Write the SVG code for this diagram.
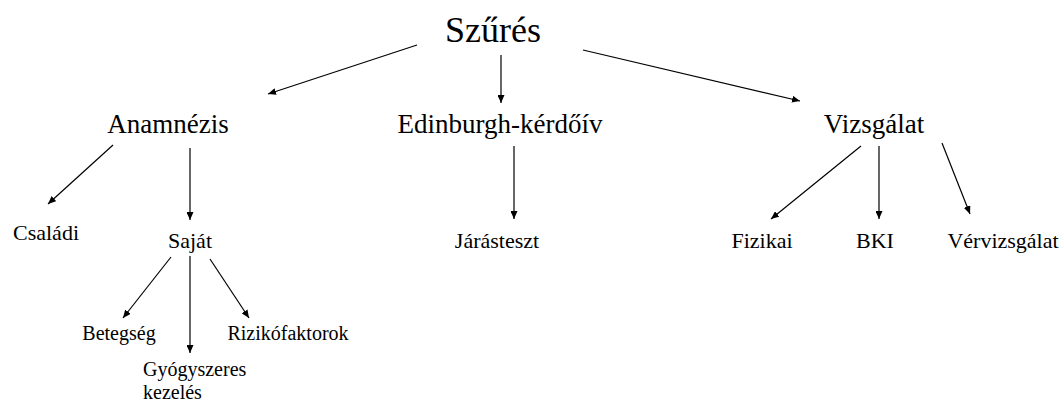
<svg xmlns="http://www.w3.org/2000/svg" width="1060" height="403" viewBox="0 0 1060 403">
<defs>
<marker id="ah" markerWidth="8" markerHeight="7" refX="8" refY="3.5" orient="auto" markerUnits="userSpaceOnUse">
<path d="M0,0 L8,3.5 L0,7 Z" fill="#000"/>
</marker>
<style>
.c line{stroke:#000;stroke-width:1.2;marker-end:url(#ah)}
</style>
</defs>
<rect width="1060" height="403" fill="#fff"/>
<g id="connectors" class="c">
<line x1="417" y1="45" x2="268" y2="94"/>
<line x1="501" y1="55" x2="501" y2="103"/>
<line x1="583" y1="50" x2="800" y2="101"/>
<line x1="113" y1="145" x2="48" y2="204"/>
<line x1="190" y1="148" x2="190" y2="220"/>
<line x1="171" y1="257" x2="123" y2="318"/>
<line x1="190" y1="256" x2="190" y2="353"/>
<line x1="210" y1="259" x2="249" y2="318"/>
<line x1="514" y1="146" x2="514" y2="219"/>
<line x1="861" y1="146" x2="771" y2="219"/>
<line x1="879" y1="146" x2="879" y2="219"/>
<line x1="942" y1="143" x2="970" y2="214"/>
</g>
<g font-family="'Liberation Serif', 'DejaVu Serif', serif" fill="#000" text-anchor="middle">
<g id="n-szures"><text font-size="36" x="493" y="42">Szűrés</text></g>
<g id="n-anamnezis"><text font-size="27" x="168" y="133">Anamnézis</text></g>
<g id="n-edinburgh"><text font-size="27" x="500" y="133">Edinburgh-kérdőív</text></g>
<g id="n-vizsgalat"><text font-size="27" x="874" y="133">Vizsgálat</text></g>
<g id="n-csaladi"><text font-size="22" x="46" y="240">Családi</text></g>
<g id="n-sajat"><text font-size="22" x="190" y="248">Saját</text></g>
<g id="n-jarasteszt"><text font-size="22" x="497" y="248">Járásteszt</text></g>
<g id="n-fizikai"><text font-size="22" x="762" y="248">Fizikai</text></g>
<g id="n-bki"><text font-size="22" x="875" y="248">BKI</text></g>
<g id="n-vervizsgalat"><text font-size="22" x="1003" y="248">Vérvizsgálat</text></g>
<g id="n-betegseg"><text font-size="20" x="119" y="340">Betegség</text></g>
<g id="n-rizikofaktorok"><text font-size="20" x="288" y="340">Rizikófaktorok</text></g>
<g id="n-gyogyszeres" text-anchor="start"><text font-size="20" x="143" y="376">Gyógyszeres</text><text font-size="20" x="143" y="399">kezelés</text></g>
</g>
</svg>
